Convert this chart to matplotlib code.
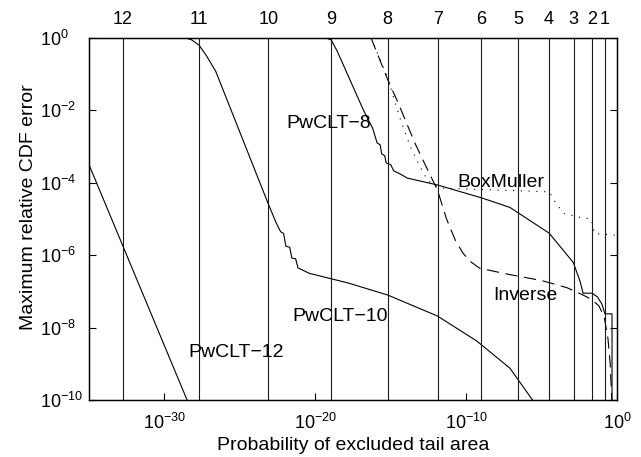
import math
import numpy as np
import matplotlib
matplotlib.use("Agg")
from matplotlib import pyplot as plt

plt.rcParams['font.family'] = ['Liberation Sans', 'DejaVu Sans']
plt.rcParams['mathtext.default'] = 'regular'

# sigma multiples marked by the vertical lines / top axis
sigmas = [12, 11, 10, 9, 8, 7, 6, 5, 4, 3, 2, 1]

# curves, as log10(tail probability) and log10(max relative CDF error)
pw12_x = [-35.0, -28.5]
pw12_y = [-3.5, -10.0]

pw10_x = [-35.0, -28.6, -28.2, -27.7, -27.2, -26.6, -23.1, -22.6, -22.3, -22.1, -21.95,
          -21.7, -21.55, -21.3, -21.15, -20.8, -20.4, -17.8, -15.2, -11.9, -9.3, -7.1, -5.6]
pw10_y = [0.0, 0.0, -0.05, -0.2, -0.5, -0.92, -4.6, -5.1, -5.35, -5.4, -5.75,
          -5.78, -6.08, -6.1, -6.35, -6.42, -6.5, -6.77, -7.1, -7.68, -8.37, -9.12, -10.0]

pw8_x = [-19.3, -18.95, -18.55, -16.8, -16.2, -15.9, -15.7, -15.6, -15.4, -15.3, -15.0,
         -14.8, -14.4, -13.9, -11.9, -8.95, -7.1, -4.5, -2.9, -2.45, -2.25, -1.65, -1.3,
         -1.0, -0.8, -0.33, -0.33]
pw8_y = [0.0, -0.05, -0.36, -2.0, -2.49, -2.9, -2.95, -3.2, -3.25, -3.45, -3.5,
         -3.67, -3.75, -3.87, -4.06, -4.42, -4.68, -5.39, -6.2, -6.72, -7.05, -7.05, -7.15,
         -7.35, -7.62, -7.62, -10.0]

inv_x = [-16.3, -15.2, -14.5, -13.4, -12.6, -11.9, -11.3, -10.7, -10.2, -9.7, -9.1, -7.3,
         -5.0, -3.3, -2.25, -1.7, -1.2, -0.85, -0.6, -0.45, -0.35]
inv_y = [0.0, -1.15, -1.8, -2.9, -3.6, -4.2, -5.0, -5.6, -5.95, -6.18, -6.36, -6.52,
         -6.7, -6.9, -7.1, -7.22, -7.4, -7.7, -8.3, -9.0, -10.0]

bm_x = [-16.3, -15.7, -15.2, -14.4, -13.7, -13.05, -12.6, -12.2, -11.5, -8.0, -4.5, -4.0,
        -3.5, -2.5, -1.7, -1.5, 0.0]
bm_y = [0.0, -0.6, -1.1, -2.2, -3.0, -3.56, -3.9, -4.06, -4.15, -4.2, -4.25, -4.6,
        -4.85, -4.95, -5.0, -5.4, -5.45]

labels = ["PwCLT\u22128", "BoxMuller", "Inverse", "PwCLT\u221210", "PwCLT\u221212"]
label_x = [-21.9, -10.6, -8.2, -21.5, -28.4]
label_y = [-2.35, -3.98, -7.1, -7.68, -8.7]

tail = [0.5 * math.erfc(s / math.sqrt(2)) for s in sigmas]

fig = plt.figure(figsize=(6.41, 4.57), dpi=100)
ax = fig.add_axes([89 / 641, 57 / 457, 528 / 641, 362 / 457])

p = lambda a: 10.0 ** np.asarray(a)
ax.plot(p(pw12_x), p(pw12_y), color='k', lw=0.8)
ax.plot(p(pw10_x), p(pw10_y), color='k', lw=0.8)
ax.plot(p(pw8_x), p(pw8_y), color='k', lw=0.8)
ax.plot(p(inv_x), p(inv_y), color='k', lw=0.8, dashes=(11, 6))
ax.plot(p(bm_x), p(bm_y), color='k', lw=0.8, dashes=(1, 6))

for t in tail:
    ax.axvline(t, color='0.1', lw=0.8)

for s, x, y in zip(labels, label_x, label_y):
    ax.text(10.0 ** x, 10.0 ** y, s, fontsize=14, ha='left', va='center')

ax.set_xscale('log')
ax.set_yscale('log')
ax.set_xlim(1e-35, 1)
ax.set_ylim(1e-10, 1)
ax.set_xticks([1e-30, 1e-20, 1e-10, 1e0])
ax.set_xticklabels(['$10^{-30}$', '$10^{-20}$', '$10^{-10}$', '$10^{0}$'])
ax.set_yticks([1e-10, 1e-8, 1e-6, 1e-4, 1e-2, 1e0])
ax.set_yticklabels(['$10^{-10}$', '$10^{-8}$', '$10^{-6}$', '$10^{-4}$', '$10^{-2}$', '$10^{0}$'])
ax.minorticks_off()
ax.tick_params(direction='in', length=5, width=0.8, top=True, right=True, labelsize=13)
ax.tick_params(axis='y', pad=35)
ax.tick_params(axis='x', pad=9)
for lbl in ax.get_yticklabels():
    lbl.set_horizontalalignment('left')
ax.set_xlabel('Probability of excluded tail area', fontsize=14, labelpad=3)
ax.set_ylabel('Maximum relative CDF error', fontsize=14)
ax.yaxis.set_label_coords(-0.098, 0.533)
for sp in ax.spines.values():
    sp.set_linewidth(1.0)

ax2 = ax.twiny()
ax2.set_xscale('log')
ax2.set_xlim(ax.get_xlim())
ax2.set_xticks(tail)
ax2.set_xticklabels([str(s) for s in sigmas])
ax2.minorticks_off()
ax2.tick_params(axis='x', length=0, pad=7, labelsize=13)

fig.savefig('out.png', dpi=100)
